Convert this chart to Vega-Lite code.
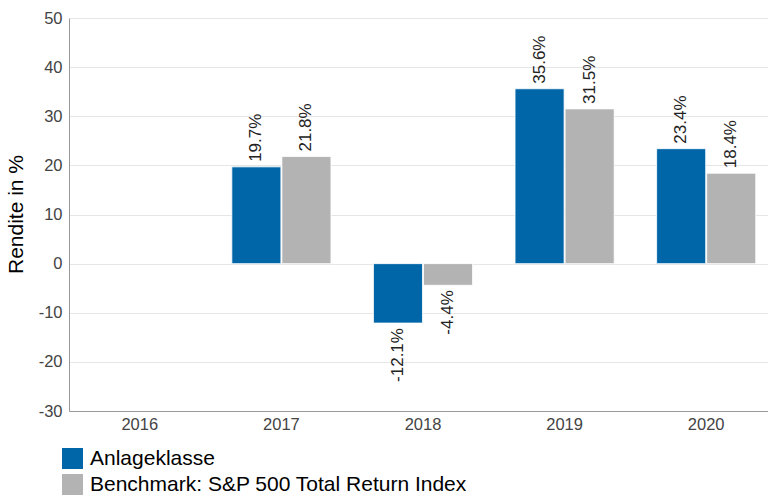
{
  "$schema": "https://vega.github.io/schema/vega-lite/v6.json",
  "autosize": "none",
  "padding": {"left": 69, "top": 18, "right": 0, "bottom": 85},
  "width": 708,
  "height": 393,
  "background": "white",
  "config": {
    "font": "Liberation Sans",
    "view": {"stroke": null}
  },
  "data": {
    "values": [
      {"year": "2017", "series": "Anlageklasse", "value": 19.7},
      {"year": "2017", "series": "Benchmark: S&P 500 Total Return Index", "value": 21.8},
      {"year": "2018", "series": "Anlageklasse", "value": -12.1},
      {"year": "2018", "series": "Benchmark: S&P 500 Total Return Index", "value": -4.4},
      {"year": "2019", "series": "Anlageklasse", "value": 35.6},
      {"year": "2019", "series": "Benchmark: S&P 500 Total Return Index", "value": 31.5},
      {"year": "2020", "series": "Anlageklasse", "value": 23.4},
      {"year": "2020", "series": "Benchmark: S&P 500 Total Return Index", "value": 18.4}
    ]
  },
  "transform": [
    {"calculate": "replace(format(datum.value, '.1f'), '\u2212', '-') + '%'", "as": "label"}
  ],
  "encoding": {
    "x": {
      "field": "year", "type": "nominal",
      "scale": {"domain": ["2016", "2017", "2018", "2019", "2020"], "paddingInner": 0.3, "paddingOuter": 0.15},
      "axis": {
        "title": null, "labelAngle": 0, "labelFontSize": 16.5, "labelColor": "#444444",
        "labelPadding": 5, "ticks": false, "domainColor": "#999999", "grid": false
      }
    },
    "xOffset": {
      "field": "series", "type": "nominal",
      "scale": {"domain": ["Anlageklasse", "Benchmark: S&P 500 Total Return Index"], "paddingInner": 0.02}
    },
    "y": {
      "field": "value", "type": "quantitative",
      "scale": {"domain": [-30, 50], "nice": false, "zero": false},
      "axis": {
        "title": "Rendite in %", "titleFontSize": 21, "titleFontWeight": "normal", "titleColor": "#000000",
        "titleX": -53, "titleY": 196, "titleAlign": "center", "titleBaseline": "middle", "titleAngle": -90,
        "values": [-30, -20, -10, 0, 10, 20, 30, 40, 50],
        "labelExpr": "toString(datum.value)",
        "labelFontSize": 16.5, "labelColor": "#444444", "labelPadding": 7,
        "ticks": false, "domainColor": "#999999", "gridColor": "#e6e6e6"
      }
    }
  },
  "layer": [
    {
      "mark": {"type": "bar", "stroke": "#ffffff", "strokeWidth": 0.8},
      "encoding": {
        "color": {
          "field": "series", "type": "nominal",
          "scale": {"domain": ["Anlageklasse", "Benchmark: S&P 500 Total Return Index"], "range": ["#0066a8", "#b3b3b3"]},
          "legend": {
            "title": null, "orient": "none", "legendX": -7, "legendY": 430,
            "symbolType": "square", "symbolSize": 441, "symbolStrokeWidth": 0, "symbolOpacity": 1,
            "labelFontSize": 21, "labelColor": "#000000", "labelOffset": 7, "rowPadding": 4,
            "labelLimit": 600
          }
        }
      }
    },
    {
      "transform": [{"filter": "datum.value >= 0"}],
      "mark": {"type": "text", "angle": 270, "align": "left", "baseline": "middle", "dx": 5, "fontSize": 17, "color": "#222222"},
      "encoding": {"text": {"field": "label"}}
    },
    {
      "transform": [{"filter": "datum.value < 0"}],
      "mark": {"type": "text", "angle": 270, "align": "right", "baseline": "middle", "dx": -5, "fontSize": 17, "color": "#222222"},
      "encoding": {"text": {"field": "label"}}
    }
  ]
}
